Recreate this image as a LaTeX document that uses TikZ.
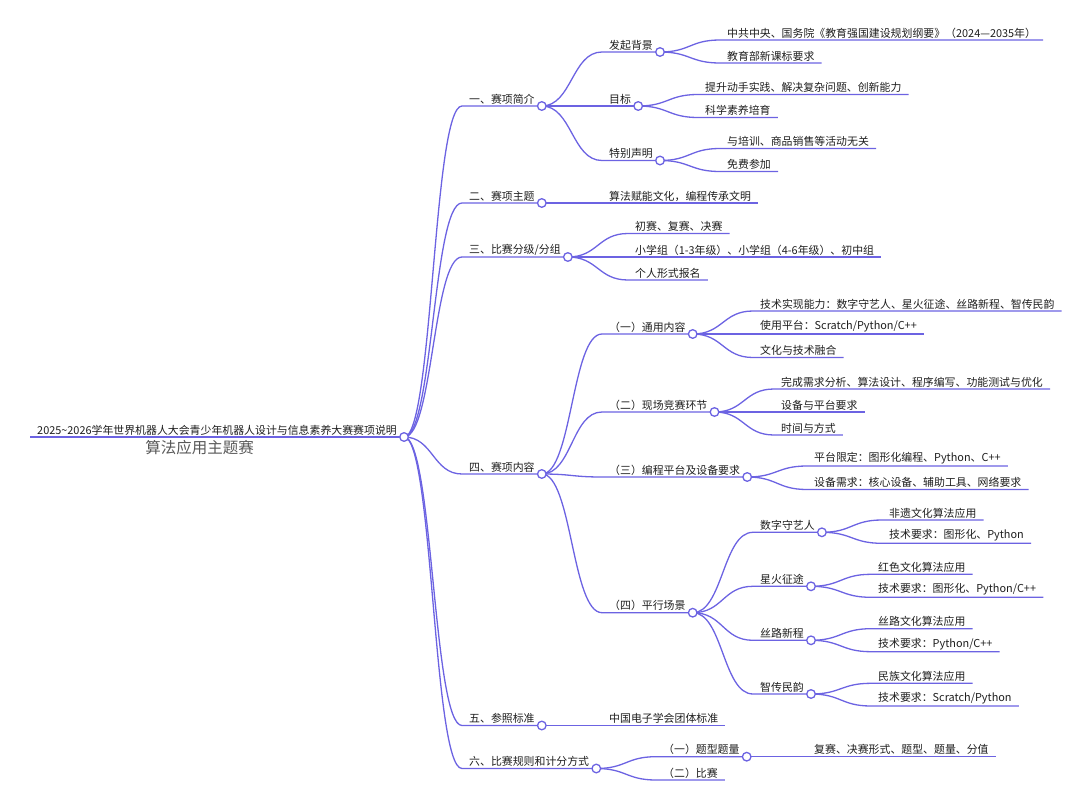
\documentclass[tikz,border=0pt]{standalone}
\usepackage{fontspec}
\setmainfont{Noto Sans CJK SC}
\usetikzlibrary{calc}
\definecolor{mapline}{RGB}{108,99,226}
\definecolor{maptext}{RGB}{30,30,30}
\definecolor{subgray}{RGB}{88,88,88}

\begin{document}
\begin{tikzpicture}[x=1pt,y=-1pt,
    topic/.style={anchor=south west,inner xsep=7pt,inner ysep=1.6pt,text=maptext,font=\fontsize{10.9}{12}\selectfont},
    branch/.style={draw=mapline,line width=1.3pt},
    knot/.style={circle,draw=mapline,fill=white,line width=1.3pt,inner sep=0pt,minimum size=8.6pt}]
  \useasboundingbox (0,0) rectangle (1080,787);
  \node[topic] (r) at (30,437) {2025\textasciitilde2026学年世界机器人大会青少年机器人设计与信息素养大赛赛项说明};
  \node[anchor=north,inner sep=0pt,text=subgray,font=\fontsize{15.5}{17}\selectfont] (sub) at (199.5,440.5) {算法应用主题赛};
  \node[topic] (n1) at (462,106) {一、赛项简介};
  \node[topic] (n2) at (462,203) {二、赛项主题};
  \node[topic] (n3) at (462,257) {三、比赛分级/分组};
  \node[topic] (n4) at (462,474) {四、赛项内容};
  \node[topic] (n5) at (462,725.5) {五、参照标准};
  \node[topic] (n6) at (462,768.5) {六、比赛规则和计分方式};
  \node[topic] (n11) at (602,52) {发起背景};
  \node[topic] (n12) at (602,106) {目标};
  \node[topic] (n13) at (602,160.5) {特别声明};
  \node[topic] (n111) at (720,40) {中共中央、国务院《教育强国建设规划纲要》（2024—2035年）};
  \node[topic] (n112) at (720,63) {教育部新课标要求};
  \node[topic] (n121) at (698,94.5) {提升动手实践、解决复杂问题、创新能力};
  \node[topic] (n122) at (698,117.5) {科学素养培育};
  \node[topic] (n131) at (720,148.5) {与培训、商品销售等活动无关};
  \node[topic] (n132) at (720,171.5) {免费参加};
  \node[topic] (n21) at (602,203) {算法赋能文化，编程传承文明};
  \node[topic] (n31) at (628,233.5) {初赛、复赛、决赛};
  \node[topic] (n32) at (628,257) {小学组（1-3年级）、小学组（4-6年级）、初中组};
  \node[topic] (n33) at (628,280) {个人形式报名};
  \node[topic] (n41) at (602,334) {（一）通用内容};
  \node[topic] (n42) at (602,412) {（二）现场竞赛环节};
  \node[topic] (n43) at (602,477) {（三）编程平台及设备要求};
  \node[topic] (n44) at (602,612.7) {（四）平行场景};
  \node[topic] (n411) at (753,311) {技术实现能力：数字守艺人、星火征途、丝路新程、智传民韵};
  \node[topic] (n412) at (753,334) {使用平台：Scratch/Python/C++};
  \node[topic] (n413) at (753,357.5) {文化与技术融合};
  \node[topic] (n421) at (774,389) {完成需求分析、算法设计、程序编写、功能测试与优化};
  \node[topic] (n422) at (774,412) {设备与平台要求};
  \node[topic] (n423) at (774,435) {时间与方式};
  \node[topic] (n431) at (807,466) {平台限定：图形化编程、Python、C++};
  \node[topic] (n432) at (807,489.5) {设备需求：核心设备、辅助工具、网络要求};
  \node[topic] (n441) at (753,532.3) {数字守艺人};
  \node[topic] (n442) at (753,586.3) {星火征途};
  \node[topic] (n443) at (753,640.3) {丝路新程};
  \node[topic] (n444) at (753,694) {智传民韵};
  \node[topic] (n4411) at (882,520) {非遗文化算法应用};
  \node[topic] (n4412) at (882,543.3) {技术要求：图形化、Python};
  \node[topic] (n4421) at (871,574.3) {红色文化算法应用};
  \node[topic] (n4422) at (871,597.3) {技术要求：图形化、Python/C++};
  \node[topic] (n4431) at (871,628.7) {丝路文化算法应用};
  \node[topic] (n4432) at (871,651.7) {技术要求：Python/C++};
  \node[topic] (n4441) at (871,683.3) {民族文化算法应用};
  \node[topic] (n4442) at (871,706) {技术要求：Scratch/Python};
  \node[topic] (n51) at (602,725.5) {中国电子学会团体标准};
  \node[topic] (n61) at (656,756.7) {（一）题型题量};
  \node[topic] (n62) at (656,780) {（二）比赛};
  \node[topic] (n611) at (807,756.7) {复赛、决赛形式、题型、题量、分值};
  \draw[branch] (r.south west) -- (r.south east);
  \foreach \a/\b in {r/n1,r/n2,r/n3,r/n4,r/n5,r/n6,n1/n11,n1/n12,n1/n13,n11/n111,n11/n112,n12/n121,n12/n122,n13/n131,n13/n132,
      n2/n21,n3/n31,n3/n32,n3/n33,n4/n41,n4/n42,n4/n43,n4/n44,n41/n411,n41/n412,n41/n413,n42/n421,n42/n422,n42/n423,
      n43/n431,n43/n432,n44/n441,n44/n442,n44/n443,n44/n444,n441/n4411,n441/n4412,n442/n4421,n442/n4422,
      n443/n4431,n443/n4432,n444/n4441,n444/n4442,n5/n51,n6/n61,n6/n62,n61/n611}
    \draw[branch] (\a.south east) .. controls ($(\a.south east)!0.5!(\a.south east -| \b.south west)$)
      and ($(\b.south west)!0.5!(\b.south west -| \a.south east)$) .. (\b.south west) -- (\b.south east);
  \foreach \a in {r,n1,n2,n3,n4,n5,n6,n11,n12,n13,n41,n42,n43,n44,n441,n442,n443,n444,n61}
    \node[knot] at (\a.south east) {};
\end{tikzpicture}
\end{document}
